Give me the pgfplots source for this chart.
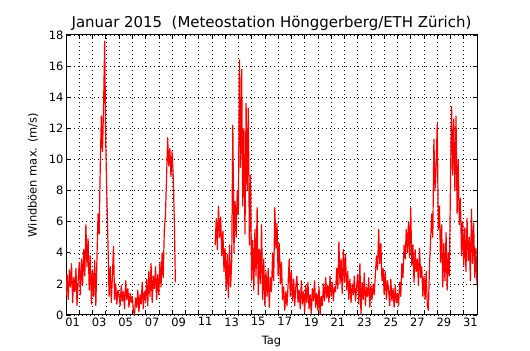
\documentclass[border=0pt]{standalone}
\usepackage{pgfplots}
\pgfplotsset{compat=1.18}
\usepackage{pgfplotstable}
\usepackage{fontspec}
\setmainfont{DejaVu Sans}

\pgfplotstableread[row sep=\\]{
v\\
1.2\\2.6\\1.0\\2.9\\1.8\\3.3\\0.8\\2.4\\1.5\\3.0\\0.6\\2.2\\
3.4\\1.3\\3.6\\1.9\\4.2\\2.5\\5.8\\3.1\\4.9\\1.6\\3.8\\0.7\\
2.9\\1.2\\3.5\\0.6\\3.6\\6.5\\5.2\\9.5\\12.8\\10.5\\13.3\\17.6\\
11.0\\7.6\\4.6\\1.2\\3.1\\0.8\\2.5\\4.4\\1.0\\2.0\\0.7\\1.6\\
1.3\\0.6\\1.9\\0.9\\1.5\\0.4\\2.2\\1.0\\1.7\\0.5\\1.4\\0.8\\
1.2\\0.3\\0.0\\1.1\\0.5\\1.6\\0.2\\1.3\\0.7\\2.1\\0.4\\1.5\\
0.9\\2.3\\0.6\\2.8\\1.2\\3.3\\0.8\\2.5\\1.7\\3.1\\1.0\\2.6\\
1.3\\3.4\\1.8\\4.0\\2.4\\5.5\\6.4\\8.8\\11.4\\9.6\\10.7\\8.9\\
10.5\\9.0\\6.2\\2.1\\
}\segA

\pgfplotstableread[row sep=\\]{
v\\
4.5\\6.2\\4.2\\7.0\\5.0\\6.3\\3.8\\5.4\\2.8\\
4.3\\1.6\\3.9\\1.1\\4.5\\1.8\\3.5\\12.2\\4.0\\7.3\\5.0\\8.0\\
6.5\\16.4\\9.5\\15.8\\7.0\\12.0\\5.2\\13.6\\8.0\\13.3\\4.5\\9.0\\
2.2\\4.8\\1.6\\5.5\\2.5\\6.9\\1.3\\4.2\\2.0\\5.8\\1.0\\3.6\\
0.6\\2.8\\1.2\\3.0\\0.5\\2.4\\1.5\\4.0\\2.2\\6.9\\4.3\\5.9\\
2.5\\4.6\\2.0\\3.4\\1.0\\1.8\\0.3\\1.5\\0.6\\1.9\\3.6\\1.2\\
2.8\\0.9\\2.3\\0.6\\1.8\\2.5\\0.8\\1.6\\0.4\\2.2\\0.7\\1.5\\
0.2\\1.9\\0.8\\2.1\\0.4\\1.3\\0.1\\1.7\\0.9\\2.2\\0.5\\1.4\\
0.3\\1.8\\0.0\\1.2\\0.6\\2.0\\0.9\\2.4\\1.1\\1.9\\0.8\\2.5\\
1.2\\2.1\\0.9\\1.8\\1.5\\3.0\\1.7\\4.7\\2.0\\3.6\\1.4\\4.2\\
2.1\\3.9\\1.6\\2.8\\1.0\\2.3\\0.8\\2.0\\1.3\\2.5\\0.9\\1.7\\
2.6\\0.7\\3.3\\0.0\\2.1\\1.0\\2.7\\0.6\\1.8\\1.2\\2.4\\0.5\\
1.9\\1.0\\2.0\\1.3\\2.6\\3.8\\2.9\\5.5\\3.3\\4.6\\2.2\\3.0\\
1.3\\2.8\\1.0\\2.2\\1.6\\0.6\\2.3\\0.9\\1.7\\0.5\\1.9\\0.8\\
1.4\\0.6\\2.1\\1.2\\3.3\\2.4\\4.5\\3.6\\5.5\\4.0\\6.0\\3.7\\
6.9\\3.2\\4.5\\2.1\\4.2\\2.8\\3.6\\1.9\\4.3\\2.4\\3.1\\1.2\\
2.5\\1.0\\2.8\\0.6\\0.3\\3.2\\4.8\\6.5\\5.0\\11.3\\8.0\\9.5\\
12.3\\5.5\\7.0\\3.4\\5.8\\1.8\\4.6\\2.2\\5.3\\1.6\\4.0\\2.5\\
8.5\\13.4\\9.0\\12.6\\8.0\\12.8\\6.5\\10.0\\5.8\\7.5\\3.8\\6.0\\
3.2\\5.6\\2.8\\6.2\\3.5\\5.0\\2.2\\6.8\\3.3\\5.9\\2.4\\4.3\\
1.9\\
}\segB

\begin{document}
\begin{tikzpicture}
\begin{axis}[
  name=ax,
  scale only axis,
  width=411bp, height=280bp,
  xmin=0, xmax=31, ymin=0, ymax=18,
  xtick={0.5,2.5,...,30.5},
  xticklabels={01,03,05,07,09,11,13,15,17,19,21,23,25,27,29,31},
  minor xtick={0,1,...,31},
  ytick={0,2,...,18},
  every major x tick/.append style={draw=none},
  major tick length=4bp, minor tick length=4bp,
  tick align=inside,
  xminorgrids=true, ymajorgrids=true,
  minor grid style={black, line width=0.5bp, dash pattern=on 1bp off 3bp},
  major grid style={black, line width=0.5bp, dash pattern=on 1bp off 3bp},
  axis line style={black, line width=1bp},
  tick style={black, line width=0.6bp},
  /pgf/number format/assume math mode=true,
  ticklabel style={font=\fontsize{11.5}{13}\selectfont},
  xticklabel style={yshift=1bp},
  yticklabel style={xshift=1bp},
  xlabel={Tag},
  ylabel={Windböen max. (m/s)},
  every axis x label/.style={at={(axis description cs:0.5,-0.0964)}, anchor=center, font=\fontsize{11.5}{13}\selectfont},
  every axis y label/.style={at={(axis description cs:-0.0803,0.5)}, rotate=90, anchor=center, font=\fontsize{11.5}{13}\selectfont},
  title={Januar 2015\ \ (Meteostation Hönggerberg/ETH Zürich)},
  every axis title/.style={at={(axis description cs:0.5,1.043)}, anchor=center, font=\fontsize{15}{17}\selectfont},
]
\addplot[red, line width=1.2bp, line join=round] table[x expr=\coordindex/12, y=v] {\segA};
\addplot[red, line width=1.2bp, line join=round] table[x expr=11.25+\coordindex/12, y=v] {\segB};
\end{axis}
\path ([shift={(-66bp,-35bp)}]ax.south west) rectangle ([shift={(53bp,35bp)}]ax.north east);
\end{tikzpicture}
\end{document}
